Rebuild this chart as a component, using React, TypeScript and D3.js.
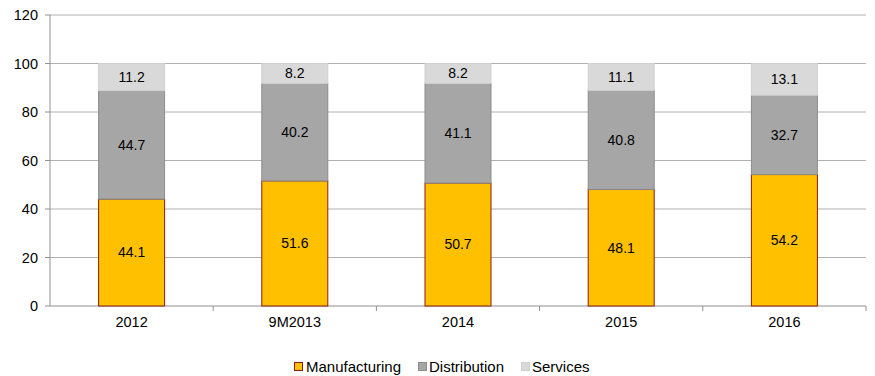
import React from "react";
import * as d3 from "d3";

const categories = ["2012", "9M2013", "2014", "2015", "2016"];
const manufacturing = [44.1, 51.6, 50.7, 48.1, 54.2];
const distribution = [44.7, 40.2, 41.1, 40.8, 32.7];
const services = [11.2, 8.2, 8.2, 11.1, 13.1];
const yTicks = [0, 20, 40, 60, 80, 100, 120];
const seriesNames = ["Manufacturing", "Distribution", "Services"];

const W = 875, H = 376;
const left = 50, right = 866, top = 15, bottom = 306;

export default function App() {
  const x = d3.scaleBand<string>().domain(categories).range([left, right]).paddingInner(0).paddingOuter(0);
  const y = d3.scaleLinear().domain([0, 120]).range([bottom, top]);
  const barW = 66;
  const rows = categories.map((c, i) => ({ cat: c, Manufacturing: manufacturing[i], Distribution: distribution[i], Services: services[i] }));
  const stack = d3.stack<any>().keys(seriesNames)(rows);
  const fills: Record<string, string> = { Manufacturing: "#FFC000", Distribution: "#A6A6A6", Services: "#D9D9D9" };
  const strokes: Record<string, string> = { Manufacturing: "#8B1A1A", Distribution: "#8C8C8C", Services: "#D0D0D0" };
  const font = "'Liberation Sans', Arial, sans-serif";
  const legendItems = [
    { name: "Manufacturing", sx: 294.5, tx: 306 },
    { name: "Distribution", sx: 418.5, tx: 429 },
    { name: "Services", sx: 521.5, tx: 532 },
  ];
  return (
    <svg width={W} height={H} style={{ position: "absolute", left: 0, top: 0 }} fontFamily={font}>
      <rect width={W} height={H} fill="#fff" />
      {yTicks.map((t) => (
        <g key={t}>
          {t > 0 && <line x1={left} x2={right} y1={y(t)} y2={y(t)} stroke="#B0B0B0" strokeWidth={1} />}
          <line x1={left - 5} x2={left} y1={y(t)} y2={y(t)} stroke="#909090" />
          <text x={38} y={y(t)} dy="0.35em" textAnchor="end" fontSize={14.5} fill="#000">{t}</text>
        </g>
      ))}
      <line x1={left} x2={left} y1={top} y2={bottom} stroke="#909090" />
      <line x1={left} x2={right} y1={bottom} y2={bottom} stroke="#909090" />
      {categories.map((c, i) => (
        <line key={"tk" + i} x1={x(c)! + x.bandwidth()} x2={x(c)! + x.bandwidth()} y1={bottom} y2={bottom + 5} stroke="#909090" />
      ))}
      {stack.map((s) => (
        <g key={s.key}>
          {s.map((d, i) => {
            const cx = x(categories[i])! + x.bandwidth() / 2;
            const y0 = y(d[0]), y1 = y(d[1]);
            return (
              <g key={i}>
                <rect x={cx - barW / 2} y={y1} width={barW} height={y0 - y1} fill={fills[s.key]} stroke={strokes[s.key]} strokeWidth={1} />
                <text x={cx} y={(y0 + y1) / 2} dy="0.35em" textAnchor="middle" fontSize={14} fill="#000">
                  {(d[1] - d[0]).toFixed(1)}
                </text>
              </g>
            );
          })}
        </g>
      ))}
      {categories.map((c) => (
        <text key={"xl" + c} x={x(c)! + x.bandwidth() / 2} y={322} dy="0.35em" textAnchor="middle" fontSize={14.5} fill="#000">{c}</text>
      ))}
      {legendItems.map((l) => (
        <g key={l.name}>
          <rect x={l.sx} y={362.5} width={8} height={8} fill={fills[l.name]} stroke={strokes[l.name]} strokeWidth={1} />
          <text x={l.tx} y={366.5} dy="0.35em" fontSize={15} fill="#000">{l.name}</text>
        </g>
      ))}
    </svg>
  );
}
